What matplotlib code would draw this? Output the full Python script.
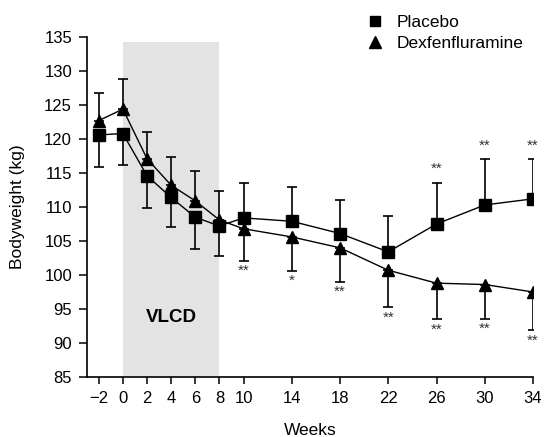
import matplotlib
matplotlib.use("Agg")
import matplotlib.pyplot as plt
import numpy as np

# ---- data ----
weeks = [-2, 0, 2, 4, 6, 8, 10, 14, 18, 22, 26, 30, 34]
placebo = [120.6, 120.8, 114.6, 111.4, 108.5, 107.2, 108.4, 107.9, 106.1, 103.4, 107.5, 110.3, 111.2]
placebo_sd = [4.7, 4.6, 4.8, 4.4, 4.7, 4.4, 5.2, 5.1, 5.0, 5.3, 6.1, 6.8, 5.9]
dexf = [122.7, 124.4, 117.1, 113.2, 110.9, 108.1, 106.8, 105.6, 104.0, 100.7, 98.8, 98.6, 97.5]
dexf_sd = [4.1, 4.4, 4.0, 4.2, 4.4, 4.25, 4.7, 5.0, 5.0, 5.4, 5.3, 5.0, 5.6]
dexf_stars = ["", "", "", "", "", "", "**", "*", "**", "**", "**", "**", "**"]
placebo_stars = ["", "", "", "", "", "", "", "", "", "", "**", "**", "**"]
xtick_labels = ["\u22122", "0", "2", "4", "6", "8", "10", "14", "18", "22", "26", "30", "34"]
vlcd_period = (0, 8)

FONT = "Liberation Sans"
plt.rcParams["font.family"] = [FONT, "DejaVu Sans"]

fig = plt.figure(figsize=(5.45, 4.37), dpi=100)
ax = fig.add_axes([86.7 / 545, 1 - 377 / 437, (533 - 86.7) / 545, (377 - 37) / 437])

x = np.array(weeks, dtype=float)
p = np.array(placebo)
d = np.array(dexf)
psd = np.array(placebo_sd)
dsd = np.array(dexf_sd)

# one-sided error bars pointing away from the other series
p_up = p >= d
p_err = [np.where(p_up, 0, psd), np.where(p_up, psd, 0)]
d_err = [np.where(p_up, dsd, 0), np.where(p_up, 0, dsd)]

ax.axvspan(vlcd_period[0], vlcd_period[1], ymin=0, ymax=(134.2 - 85) / 50,
           color="#e3e3e3", lw=0, zorder=0)

ebkw = dict(fmt="none", ecolor="black", elinewidth=1.2, capsize=3.3, capthick=1.2, zorder=2)
ax.errorbar(x, p, yerr=p_err, **ebkw)
ax.errorbar(x, d, yerr=d_err, **ebkw)

ax.plot(x, p, color="black", lw=1.0, marker="s", markersize=8, label="Placebo", zorder=3)
ax.plot(x, d, color="black", lw=1.0, marker="^", markersize=8.5, label="Dexfenfluramine", zorder=3)

# significance markers
for xi, yi, sd, s, up in zip(x, d, dsd, dexf_stars, p_up):
    if s:
        yb = yi - sd if up else yi + sd
        ax.annotate(s, (xi, yb), xytext=(0, -12.5), textcoords="offset points",
                    ha="center", va="bottom", fontsize=11, color="#333333")
for xi, yi, sd, s, up in zip(x, p, psd, placebo_stars, p_up):
    if s:
        yb = yi + sd if up else yi - sd
        ax.annotate(s, (xi, yb), xytext=(0, 4.5), textcoords="offset points",
                    ha="center", va="bottom", fontsize=11, color="#333333")

ax.text(sum(vlcd_period) / 2, 93.8, "VLCD", ha="center", va="center",
        fontsize=13.5, fontweight="bold")

ax.set_xlim(-3, 34)
ax.set_ylim(85, 135)
ax.set_xticks(weeks)
ax.set_xticklabels(xtick_labels)
ax.set_yticks(np.arange(85, 136, 5))
for sp in ("top", "right"):
    ax.spines[sp].set_visible(False)
for sp in ("left", "bottom"):
    ax.spines[sp].set_linewidth(1.2)
ax.tick_params(axis="both", direction="out", width=1.1, labelsize=12)
ax.tick_params(axis="x", length=5, pad=5)
ax.tick_params(axis="y", length=5.5, pad=5)

ax.set_xlabel("Weeks", fontsize=12.5, labelpad=12)
ax.set_ylabel("Bodyweight (kg)", fontsize=12.5, labelpad=14)

fig.legend(loc="upper left", bbox_to_anchor=(366 / 545, 1 - 14.5 / 437),
           bbox_transform=fig.transFigure, frameon=False, fontsize=12.5,
           handlelength=1.0, handletextpad=0.75, labelspacing=0.35,
           borderpad=0, borderaxespad=0, markerscale=0.95)
for h in fig.legends[0].get_lines():
    h.set_linestyle("none")

fig.savefig("out.png", dpi=100)
